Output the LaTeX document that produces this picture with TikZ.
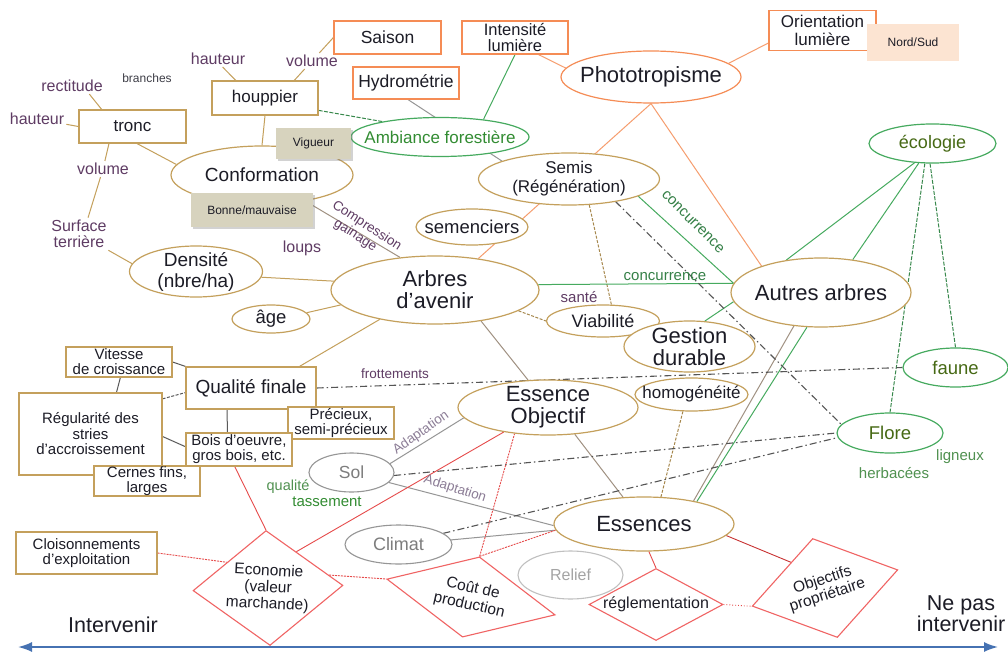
\documentclass[tikz,border=0pt]{standalone}
\usepackage{fontspec}
\setmainfont{Liberation Sans}
\usetikzlibrary{shapes.geometric,arrows.meta,backgrounds,shadows}

\definecolor{tanC}{RGB}{196,160,92}
\definecolor{gbrown}{RGB}{160,145,130}
\definecolor{orangeC}{RGB}{245,140,85}
\definecolor{greenC}{RGB}{70,170,95}
\definecolor{greenA}{RGB}{50,140,50}
\definecolor{greenT}{RGB}{70,105,20}
\definecolor{greenL}{RGB}{80,145,80}
\definecolor{greyC}{RGB}{150,150,150}
\definecolor{greyT}{RGB}{125,125,125}
\definecolor{redC}{RGB}{240,100,100}
\definecolor{redL}{RGB}{230,75,75}
\definecolor{darkred}{RGB}{200,50,50}
\definecolor{purpleT}{RGB}{95,60,100}
\definecolor{inkT}{RGB}{28,28,38}
\definecolor{vig}{RGB}{215,211,190}
\definecolor{peach}{RGB}{252,228,210}
\definecolor{arrowblue}{RGB}{70,114,178}
\definecolor{dashgrey}{RGB}{85,85,85}
\definecolor{adapt}{RGB}{140,125,150}

\newcommand\fz[2]{\fontsize{#1}{#2}\selectfont}
% ellipse: style, name, pos, width, height, text style, text
\newcommand\Ell[7]{%
  \node[#1, ellipse, inner sep=0pt, minimum width=#4pt, minimum height=#5pt] (#2) at (#3) {};
  \node[#6, align=center, inner sep=0pt] (#2-t) at (#2.center) {#7};}
% diamond: name, pos, width, height, rotation, text rotation, font, text
\newcommand\Dia[8]{%
  \node[draw=redC, line width=1.1pt, fill=white, diamond, inner sep=0pt, minimum width=#3pt, minimum height=#4pt, rotate=#5] (#1) at (#2) {};
  \node[font=#7, align=center, rotate=#6, inner sep=0pt] (#1-t) at (#1.center) {#8};}

\tikzset{
  every node/.style={text=inkT},
  boxT/.style={draw=tanC, line width=1.2pt, fill=white, inner sep=0pt, align=center},
  boxO/.style={draw=orangeC, line width=1.2pt, fill=white, inner sep=0pt, align=center},
  ellT/.style={draw=tanC, line width=1.2pt, fill=white},
  ellO/.style={draw=orangeC, line width=1.2pt, fill=white},
  ellG/.style={draw=greenC, line width=1.2pt, fill=white},
  ellS/.style={draw=greyC, line width=1.1pt, fill=white},
  ellR/.style={draw=greyC!60, line width=1.1pt},
  lab/.style={text=purpleT, inner sep=2pt},
  shad/.style={fill=vig, drop shadow={shadow xshift=2pt, shadow yshift=-2.5pt, opacity=0.35}, inner sep=0pt},
  lnT/.style={draw=tanC, line width=1pt},
  lnTd/.style={draw=tanC!85!black, line width=1pt, dash pattern=on 3pt off 1.5pt},
  lnB/.style={draw=gbrown, line width=1pt},
  lnG/.style={draw=greenC, line width=1pt},
  lnGd/.style={draw=greenC!80!black, line width=1pt, dash pattern=on 4pt off 1.5pt},
  lnO/.style={draw=orangeC!85, line width=1pt},
  lnS/.style={draw=greyC, line width=1pt},
  lnK/.style={draw=black!65, line width=1pt},
  lnR/.style={draw=redL, line width=0.9pt},
  lnRd/.style={draw=redL, line width=0.9pt, dash pattern=on 2pt off 1pt},
  dd/.style={draw=dashgrey, line width=1.1pt, dash pattern=on 7pt off 3pt on 1.5pt off 3pt},
}

\begin{document}
\begin{tikzpicture}[x=1pt,y=-1pt]
\useasboundingbox (0,0) rectangle (1008,652);

% ---- top boxes
\node[boxO, minimum width=107pt, minimum height=33pt, font=\fz{17.5}{20}] (saison) at (387.5,37.5) {Saison};
\node[boxO, minimum width=106pt, minimum height=33pt, font=\fz{16.5}{16.5}] (intens) at (515,37.5) {Intensité\\lumière};
\node[boxO, minimum width=106pt, minimum height=32pt, font=\fz{17.5}{20}] (hydro) at (406,83) {Hydrométrie};
\node[boxO, minimum width=107pt, minimum height=40pt, font=\fz{17}{17.5}] (orient) at (822.5,30.5) {Orientation\\lumière};
\node[fill=peach, minimum width=92pt, minimum height=37pt, inner sep=0pt, font=\fz{12}{14}] (nordsud) at (913,42.5) {Nord/Sud};

% ---- tronc / houppier
\node[boxT, minimum width=107pt, minimum height=33pt, font=\fz{17}{20}] (tronc) at (132.5,126.5) {tronc};
\node[boxT, minimum width=106pt, minimum height=34pt, font=\fz{17}{20}] (houppier) at (265,98) {houppier};
\node[lab, font=\fz{16}{18}] (haut2) at (218,59) {hauteur};
\node[lab, font=\fz{16}{18}] (vol2) at (312,61) {volume};
\node[lab, text=inkT!85, font=\fz{12}{14}] (branches) at (147,78) {branches};
\node[lab, font=\fz{16}{18}] (rect) at (72,86) {rectitude};
\node[lab, font=\fz{16}{18}] (haut1) at (37,119) {hauteur};
\node[lab, font=\fz{16}{18}] (vol1) at (103,169) {volume};
\node[lab, font=\fz{16}{16.5}, align=center] (surf) at (79,234) {Surface\\terrière};

% ---- ellipses
\Ell{ellT}{conform}{262,175}{182}{58}{font=\fz{19}{22}}{Conformation}
\Ell{ellG}{ambiance}{440,137}{178}{39}{text=greenA, font=\fz{17}{20}}{Ambiance forestière}
\node[shad, minimum width=75pt, minimum height=31pt, font=\fz{12}{14}] (vigueur) at (313.5,143.5) {Vigueur};
\node[shad, minimum width=122pt, minimum height=34pt, font=\fz{12}{14}] (bonne) at (252,210) {Bonne/mauvaise};
\Ell{ellO}{photo}{651,77}{180}{52}{font=\fz{22}{24}}{Phototropisme}
\Ell{ellT}{semis}{569,179}{181}{52}{font=\fz{17}{19}}{Semis\\(Régénération)}
\Ell{ellT}{semenc}{472,227}{112}{36}{font=\fz{18.5}{20}}{semenciers}
\Ell{ellT}{densite}{196,271.5}{133}{51}{font=\fz{19}{21}}{Densité\\(nbre/ha)}
\Ell{ellT}{arbres}{435,290}{208}{68}{font=\fz{22}{22}}{Arbres\\d'avenir}
\Ell{ellT}{age}{271,319}{78}{28}{font=\fz{18.5}{20}}{âge}
\Ell{ellT}{viab}{603,321}{113}{32}{font=\fz{18}{20}}{Viabilité}
\Ell{ellT}{gestion}{689.5,346.5}{131}{51}{font=\fz{22}{22}}{Gestion\\durable}
\Ell{ellT}{autres}{821,292.5}{180}{69}{font=\fz{22}{24}}{Autres arbres}
\Ell{ellT}{homog}{691.5,394.5}{113}{33}{font=\fz{17}{19}}{homogénéité}
\Ell{ellT}{essobj}{548,407.5}{180}{55}{font=\fz{22}{22}}{Essence\\Objectif}
\Ell{ellT}{essences}{644,524}{180}{54}{font=\fz{22}{24}}{Essences}
\Ell{ellG}{ecolo}{932.5,143.5}{127}{39}{text=greenT, font=\fz{18}{20}}{écologie}
\Ell{ellG}{faune}{955.5,367.5}{105}{39}{text=greenT, font=\fz{18.5}{20}}{faune}
\Ell{ellG}{flore}{890,433}{106}{40}{text=greenT, font=\fz{18.5}{20}}{Flore}
\Ell{ellS}{sol}{351.5,472.5}{85}{39}{text=greyT, font=\fz{17.5}{20}}{Sol}
\Ell{ellS}{climat}{398.5,544.5}{107}{39}{text=greyT, font=\fz{18}{20}}{Climat}

% ---- quality cluster
\node[boxT, minimum width=130pt, minimum height=42pt, font=\fz{19}{21}] (qualite) at (251,388) {Qualité finale};
\node[boxT, minimum width=106pt, minimum height=30pt, font=\fz{15}{15}] (vitesse) at (119,362) {Vitesse\\de croissance};
\node[boxT, minimum width=143pt, minimum height=82pt, font=\fz{15}{15.5}] (regul) at (90.5,434) {Régularité des\\stries\\d'accroissement};
\node[boxT, minimum width=106pt, minimum height=30pt, font=\fz{15}{15}] (cernes) at (147,481) {Cernes fins,\\larges};
\node[boxT, minimum width=106pt, minimum height=32pt, font=\fz{15}{15}] (precieux) at (341,423) {Précieux,\\semi-précieux};
\node[boxT, minimum width=106pt, minimum height=33pt, font=\fz{15}{15}] (bois) at (239,449.5) {Bois d'oeuvre,\\gros bois, etc.};
\node[boxT, minimum width=141pt, minimum height=42pt, font=\fz{15}{15.5}] (cloison) at (86.5,553) {Cloisonnements\\d'exploitation};

% ---- diamonds
\Dia{econ}{268,588}{150}{115}{2}{-3}{\fz{15.5}{16.5}}{Economie\\(valeur\\marchande)}
\Dia{cout}{471,597}{172}{82}{-12}{-13}{\fz{15.5}{17}}{Coût de\\production}
\Dia{regl}{656,604.5}{134}{72}{0}{0}{\fz{16}{18}}{réglementation}
\Dia{objprop}{825,588}{150}{102}{14}{18}{\fz{15.5}{16}}{Objectifs\\propriétaire}
\Ell{ellR}{relief}{570.5,575}{105}{48}{text=greyT!70, font=\fz{16}{18}}{Relief}

% ---- labels
\node[lab, font=\fz{13.5}{15}] (frott) at (395,374) {frottements};
\node[lab, font=\fz{15}{17}] (sante) at (579,297) {santé};
\node[lab, text=greenC!75!black, font=\fz{15}{17}] (conc1) at (665,277) {concurrence};
\node[lab, text=greenC!75!black, font=\fz{15}{17}, rotate=-45] (conc2) at (693,222) {concurrence};
\node[lab, font=\fz{13.5}{14}, align=left, rotate=-33] (compr) at (363,232) {Compression\\\hspace*{11pt}gainage};
\node[lab, font=\fz{16}{18}] (loups) at (302,248) {loups};
\node[lab, text=adapt, font=\fz{13.5}{15}, rotate=35] (adapt1) at (421,433) {Adaptation};
\node[lab, text=adapt, font=\fz{13.5}{15}, rotate=-18] (adapt2) at (455,489) {Adaptation};
\node[lab, text=greenL, font=\fz{14.5}{16}] (qual) at (288,487) {qualité};
\node[lab, text=greenA, font=\fz{15}{17}] (tass) at (327,502) {tassement};
\node[lab, text=greenL, font=\fz{15}{17}] (herb) at (894,473) {herbacées};
\node[lab, text=greenL, font=\fz{15}{17}] (lign) at (960,457) {ligneux};
\node[font=\fz{21.5}{22}] (interv) at (113,625) {Intervenir};
\node[font=\fz{21.5}{21}, align=center] (nepas) at (961,614) {Ne pas\\intervenir};

\coordinate (arrL) at (18,647);
\coordinate (arrR) at (998,647);
\draw[draw=arrowblue, line width=1.8pt, {Latex[length=14pt,width=10pt]}-{Latex[length=14pt,width=10pt]}] (arrL) -- (arrR);

% ---- connectors
\begin{scope}[on background layer]
\fill[white] (0,0) rectangle (1008,652);
% tan
\draw[lnT] (tronc.216) -- (vol1);
\draw[lnT] (vol1) -- (surf.61);
\draw[lnT] (rect.-25) -- (tronc.151);
\draw[lnT] (haut1) -- (tronc.west);
\draw[lnT] (haut2.-60) -- (houppier.149);
\draw[lnT] (vol2) -- (houppier.31);
\draw[lnT] (vol2) -- (saison.west);
\draw[lnT] (tronc.-75) -- (conform.173);
\draw[lnT] (houppier.south) -- (conform.north);
\draw[lnT] (surf.-29) -- (densite.173);
\draw[lnT] (densite.-5) -- (arbres.175);
\draw[lnT] (arbres.189) -- (age.10);
\draw[lnT] (arbres.208) -- (qualite.24);
\draw[lnTd] (arbres.-14) -- (viab.west);
\draw[lnTd] (semis.-52) -- (viab.63);
\draw[lnTd] (homog.-117) -- (essences.58);
\draw[lnB] (conform.-31) -- (arbres.137);
\draw[lnB] (arbres.-34) -- (essobj.126);
\draw[lnB] (essobj.-45) -- (essences.128);
\draw[lnB] (autres.231) -- (essences.25);
\draw[lnG] (autres.248) -- (essences.23);
% orange
\draw[lnO] (intens.-36) -- (photo.174);
\draw[lnO] (orient.193) -- (photo.10);
\draw[lnO] (photo.south) -- (arbres.36);
\draw[lnO] (photo.south) -- (autres.156);
% green
\draw[lnGd] (houppier.-13) -- (ambiance.165);
\draw[lnG] (intens.south) -- (ambiance.22);
\draw[lnG] (semis.-14) -- (autres.174);
\draw[lnG] (arbres.3) -- (autres.174);
\draw[lnG] (gestion.59) -- (autres.186);
\draw[lnG] (ecolo.227) -- (autres.137);
\draw[lnG] (ecolo.235) -- (autres.46);
\draw[lnGd] (ecolo.249) -- (flore.north);
\draw[lnGd] (ecolo.263) -- (faune.north);
% grey
\draw[lnS] (hydro.-83) -- (semis.165);
\draw[lnS] (sol.13) -- (essobj.187);
\draw[lnS] (sol.-15) -- (essences.181);
\draw[lnS] (climat.5) -- (essences.184);
% dark grey
\draw[lnK] (vitesse.east) -- (qualite.north west);
\draw[lnK] (vitesse.-85) -- (regul.58);
\draw[lnK, dash pattern=on 3pt off 1.5pt] (regul.26) -- (qualite.184);
\draw[lnK] (regul.-2) -- (bois.177);
\draw[lnK] (qualite.222) -- (bois.124);
% dash-dot
\draw[dd] (qualite.east) -- (faune.west);
\draw[dd] (semis.-26) -- (flore.170);
\draw[dd] (sol.-4) -- (flore.west);
\draw[dd] (climat.14) -- (flore.185);
% red
\draw[lnR] (bois.256) -- (econ.north);
\draw[lnRd] (cloison.east) -- (econ.146);
\draw[lnR] (econ.50) -- (essobj.209);
\draw[lnRd] (econ.10) -- (cout.west);
\draw[lnRd] (cout.north) -- (essobj.218);
\draw[lnRd] (cout.north) -- (essences.184);
\draw[lnR] (essences.-80) -- (regl.north);
\draw[lnR, draw=darkred] (essences.-8) -- (objprop.129);
\draw[lnR, dotted] (regl.east) -- (objprop.west);
\end{scope}
\end{tikzpicture}
\end{document}
